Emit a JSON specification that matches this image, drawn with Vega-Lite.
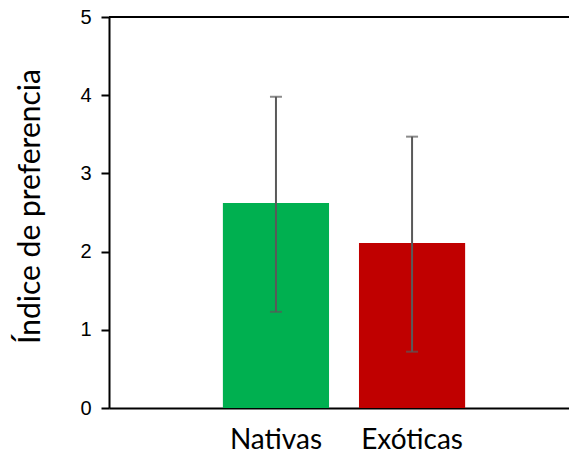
{
  "$schema": "https://vega.github.io/schema/vega-lite/v6.json",
  "width": 460,
  "height": 391,
  "autosize": "none",
  "padding": {"left": 109, "top": 17, "right": 0, "bottom": 49},
  "background": "white",
  "config": {"view": {"stroke": null}},
  "data": {"values": [
    {"grupo": "Nativas", "indice": 2.62, "lo": 1.23, "hi": 3.98},
    {"grupo": "Exóticas", "indice": 2.11, "lo": 0.72, "hi": 3.47}
  ]},
  "layer": [
    {
      "mark": {"type": "bar"},
      "encoding": {
        "x": {
          "field": "grupo", "type": "nominal", "sort": ["Nativas", "Exóticas"],
          "scale": {"paddingInner": 0.22, "paddingOuter": 0.8, "align": 0.523},
          "axis": {
            "title": null, "labelAngle": 0, "ticks": false, "domainColor": "black", "domainWidth": 2,
            "labelFont": "Lato", "labelFontSize": 28, "labelColor": "black", "labelPadding": 18
          }
        },
        "y": {
          "field": "indice", "type": "quantitative",
          "scale": {"domain": [0, 5], "nice": false},
          "axis": {
            "title": "Índice de preferencia", "titleFont": "Lato", "titleFontSize": 30, "titleFontWeight": "normal",
            "titleColor": "black", "titlePadding": 34, "titleY": 189,
            "values": [0, 1, 2, 3, 4, 5], "format": "d", "grid": false, "domainColor": "black", "domainWidth": 2,
            "tickColor": "black", "tickWidth": 2, "tickSize": 8, "labelFont": "Liberation Sans",
            "labelFontSize": 20, "labelColor": "black", "labelPadding": 10
          }
        },
        "color": {
          "field": "grupo", "type": "nominal",
          "scale": {"domain": ["Nativas", "Exóticas"], "range": ["#00B050", "#C00000"]},
          "legend": null
        }
      }
    },
    {
      "mark": {"type": "rule", "color": "#595959", "strokeWidth": 2},
      "encoding": {
        "x": {"field": "grupo", "type": "nominal", "sort": ["Nativas", "Exóticas"]},
        "y": {"field": "lo", "type": "quantitative"}, "y2": {"field": "hi"}
      }
    },
    {
      "mark": {"type": "tick", "color": "#595959", "thickness": 2, "size": 12},
      "encoding": {
        "x": {"field": "grupo", "type": "nominal", "sort": ["Nativas", "Exóticas"]},
        "y": {"field": "lo", "type": "quantitative"}
      }
    },
    {
      "mark": {"type": "tick", "color": "#595959", "thickness": 2, "size": 12},
      "encoding": {
        "x": {"field": "grupo", "type": "nominal", "sort": ["Nativas", "Exóticas"]},
        "y": {"field": "hi", "type": "quantitative"}
      }
    },
    {
      "mark": {"type": "rule", "color": "black", "strokeWidth": 2},
      "encoding": {"y": {"datum": 5}}
    }
  ]
}
